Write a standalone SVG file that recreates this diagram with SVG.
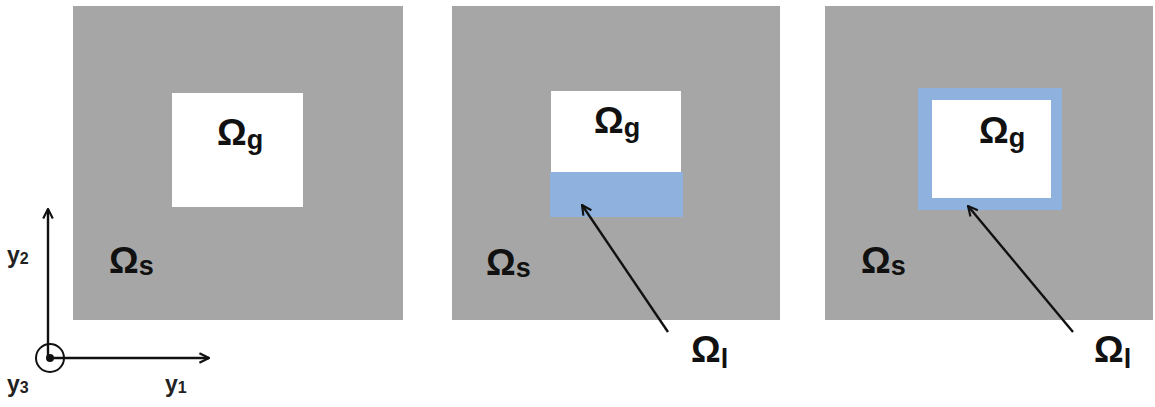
<svg xmlns="http://www.w3.org/2000/svg" width="1155" height="407" viewBox="0 0 1155 407">
<defs>
<style>
.bg{fill:#a6a6a6}
.hole{fill:#ffffff}
.layer{fill:#8eb1dd}
.lbl{font-family:"Liberation Sans",Arial,sans-serif;font-weight:bold;fill:#111;font-size:37px}
.sub{font-size:27px}
.ax{font-family:"Liberation Sans",Arial,sans-serif;font-weight:bold;fill:#222;font-size:23px}
.axs{font-size:16px}
.line{stroke:#111;stroke-width:2.4;fill:none}
</style>
<marker id="ah2" viewBox="0 0 10 10" refX="9" refY="5" markerWidth="12" markerHeight="12" orient="auto" markerUnits="userSpaceOnUse">
<path d="M1,1 L9,5 L1,9" fill="none" stroke="#111" stroke-width="1.8"/>
</marker>
</defs>
<rect width="1155" height="407" fill="#ffffff"/>

<g id="panel1">
<rect class="bg" x="73" y="6" width="330" height="314"/>
<rect class="hole" x="172" y="93" width="131" height="114"/>
<text class="lbl" x="217" y="145">Ω<tspan class="sub" dy="4">g</tspan></text>
<text class="lbl" x="109" y="273">Ω<tspan class="sub" dy="2">s</tspan></text>
</g>

<g id="panel2">
<rect class="bg" x="452" y="6" width="328" height="314"/>
<rect class="hole" x="551" y="91" width="130" height="82"/>
<rect class="layer" x="550" y="172" width="133" height="45"/>
<text class="lbl" x="594" y="133">Ω<tspan class="sub" dy="4">g</tspan></text>
<text class="lbl" x="486" y="275">Ω<tspan class="sub" dy="2">s</tspan></text>
<text class="lbl" x="691" y="362">Ω<tspan class="sub" dy="6">l</tspan></text>
</g>

<g id="panel3">
<rect class="bg" x="825" y="6" width="328" height="314"/>
<rect class="layer" x="918" y="88" width="144" height="122"/>
<rect class="hole" x="932" y="100" width="119" height="98"/>
<text class="lbl" x="979" y="143">Ω<tspan class="sub" dy="4">g</tspan></text>
<text class="lbl" x="861" y="273">Ω<tspan class="sub" dy="2">s</tspan></text>
<text class="lbl" x="1094" y="362">Ω<tspan class="sub" dy="6">l</tspan></text>
</g>

<g id="axes">
<line class="line" x1="48" y1="358" x2="48" y2="209" marker-end="url(#ah2)"/>
<line class="line" x1="48" y1="358" x2="209" y2="358" marker-end="url(#ah2)"/>
<circle cx="50" cy="358" r="14" fill="none" stroke="#111" stroke-width="2"/>
<circle cx="50" cy="358" r="4" fill="#111"/>
<text class="ax" x="7" y="263">y<tspan class="axs" dy="1">2</tspan></text>
<text class="ax" x="7" y="392">y<tspan class="axs" dy="1">3</tspan></text>
<text class="ax" x="165" y="392">y<tspan class="axs" dy="1">1</tspan></text>
</g>

<g id="connectors">
<line class="line" x1="668" y1="332" x2="582" y2="205" marker-end="url(#ah2)"/>
<line class="line" x1="1073" y1="332" x2="968" y2="206" marker-end="url(#ah2)"/>
</g>
</svg>
